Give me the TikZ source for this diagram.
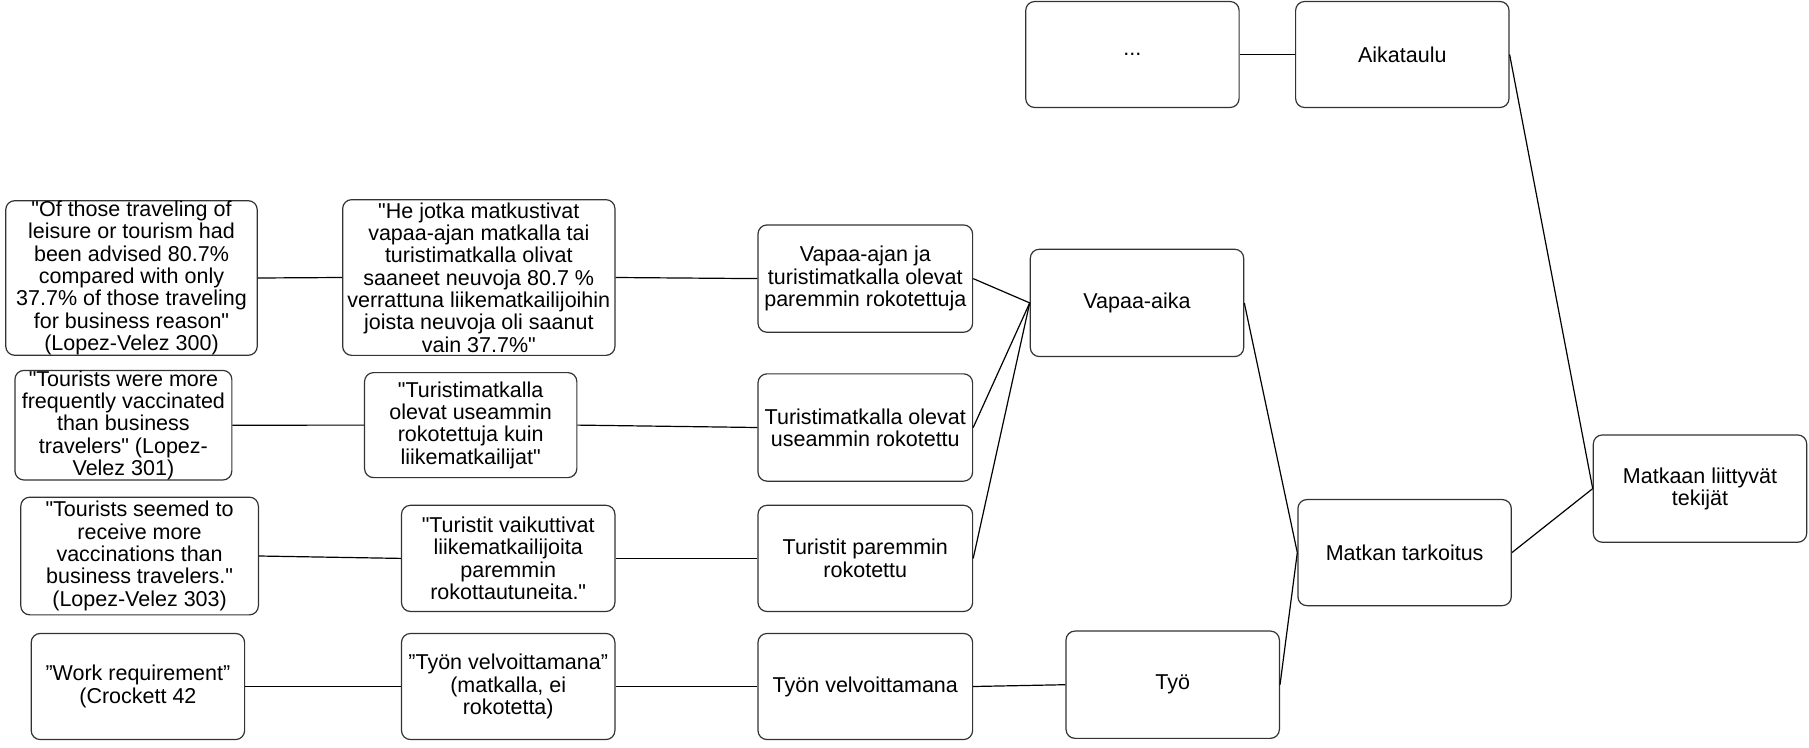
\documentclass[tikz,border=0pt]{standalone}
\usepackage{fontspec}
% keep straight double quotes as typed
\setmainfont{Liberation Sans}[Ligatures=TeXOff]
\begin{document}
\begin{tikzpicture}[x=1pt,y=-1pt,
  box/.style={draw=black!80, line width=1.2pt, rounded corners=9pt, fill=white,
    align=center, inner sep=0pt, font=\fontsize{21.5}{22.3}\selectfont},
  link/.style={draw=black, line width=1.2pt}]
\useasboundingbox (0,0) rectangle (1809,747);

% leftmost column: source quotes
\node[box, minimum width=251.5pt, minimum height=154.6pt] (a1) at (131.5,278)
  {"Of those traveling of\\leisure or tourism had\\been advised 80.7\%\\compared with only\\37.7\% of those traveling\\for business reason"\\(Lopez-Velez 300)};
\node[box, minimum width=216.9pt, minimum height=109.6pt] (a2) at (123.4,425.2)
  {"Tourists were more\\frequently vaccinated\\than business\\travelers" (Lopez-\\Velez 301)};
\node[box, minimum width=237.6pt, minimum height=117.7pt] (a3) at (139.6,556)
  {"Tourists seemed to\\receive more\\vaccinations than\\business travelers."\\(Lopez-Velez 303)};
\node[box, minimum width=213.4pt, minimum height=106.1pt] (a4) at (137.9,686.5)
  {”Work requirement”\\(Crockett 42};

% translated quotes
\node[box, minimum width=272.3pt, minimum height=155.7pt] (b1) at (478.8,277.5)
  {"He jotka matkustivat\\vapaa-ajan matkalla tai\\turistimatkalla olivat\\saaneet neuvoja 80.7 \%\\verrattuna liikematkailijoihin\\joista neuvoja oli saanut\\vain 37.7\%"};
\node[box, minimum width=212.3pt, minimum height=105pt] (b2) at (470.7,425.1)
  {"Turistimatkalla\\olevat useammin\\rokotettuja kuin\\liikematkailijat"};
\node[box, minimum width=213.4pt, minimum height=106.2pt] (b3) at (508.2,558.4)
  {"Turistit vaikuttivat\\liikematkailijoita\\paremmin\\rokottautuneita."};
\node[box, minimum width=213.4pt, minimum height=106.1pt] (b4) at (508.2,686.5)
  {”Työn velvoittamana”\\(matkalla, ei\\rokotetta)};

% reduced expressions
\node[box, minimum width=214.6pt, minimum height=107.3pt] (c1) at (865.3,278.6)
  {Vapaa-ajan ja\\turistimatkalla olevat\\paremmin rokotettuja};
\node[box, minimum width=214.6pt, minimum height=107.3pt] (c2) at (865.3,427.5)
  {Turistimatkalla olevat\\useammin rokotettu};
\node[box, minimum width=214.6pt, minimum height=106.2pt] (c3) at (865.3,558.4)
  {Turistit paremmin\\rokotettu};
\node[box, minimum width=214.6pt, minimum height=106.1pt] (c4) at (865.3,686.5)
  {Työn velvoittamana};

% subcategories
\node[box, minimum width=213.4pt, minimum height=107.3pt] (d1) at (1137,302.9) {Vapaa-aika};
\node[box, minimum width=213.4pt, minimum height=107.3pt] (d4) at (1172.7,684.7) {Työ};
\node[box, minimum width=213.4pt, minimum height=106pt] (g) at (1132.4,54.5) {...};

% main categories
\node[box, minimum width=213.4pt, minimum height=106.1pt] (e) at (1404.6,552.6) {Matkan tarkoitus};
\node[box, minimum width=213.4pt, minimum height=106pt] (h) at (1402.3,54.5) {Aikataulu};

% top category
\node[box, minimum width=213.4pt, minimum height=107.3pt] (f) at (1700,488.6) {Matkaan liittyvät\\tekijät};

% connectors
\draw[link] (a1.east) -- (b1.west);
\draw[link] (b1.east) -- (c1.west);
\draw[link] (a2.east) -- (b2.west);
\draw[link] (b2.east) -- (c2.west);
\draw[link] (a3.east) -- (b3.west);
\draw[link] (b3.east) -- (c3.west);
\draw[link] (a4.east) -- (b4.west);
\draw[link] (b4.east) -- (c4.west);
\draw[link] (c1.east) -- (d1.west);
\draw[link] (c2.east) -- (d1.west);
\draw[link] (c3.east) -- (d1.west);
\draw[link] (c4.east) -- (d4.west);
\draw[link] (d1.east) -- (e.west);
\draw[link] (d4.east) -- (e.west);
\draw[link] (g.east) -- (h.west);
\draw[link] (e.east) -- (f.west);
\draw[link] (h.east) -- (f.west);
\end{tikzpicture}
\end{document}
